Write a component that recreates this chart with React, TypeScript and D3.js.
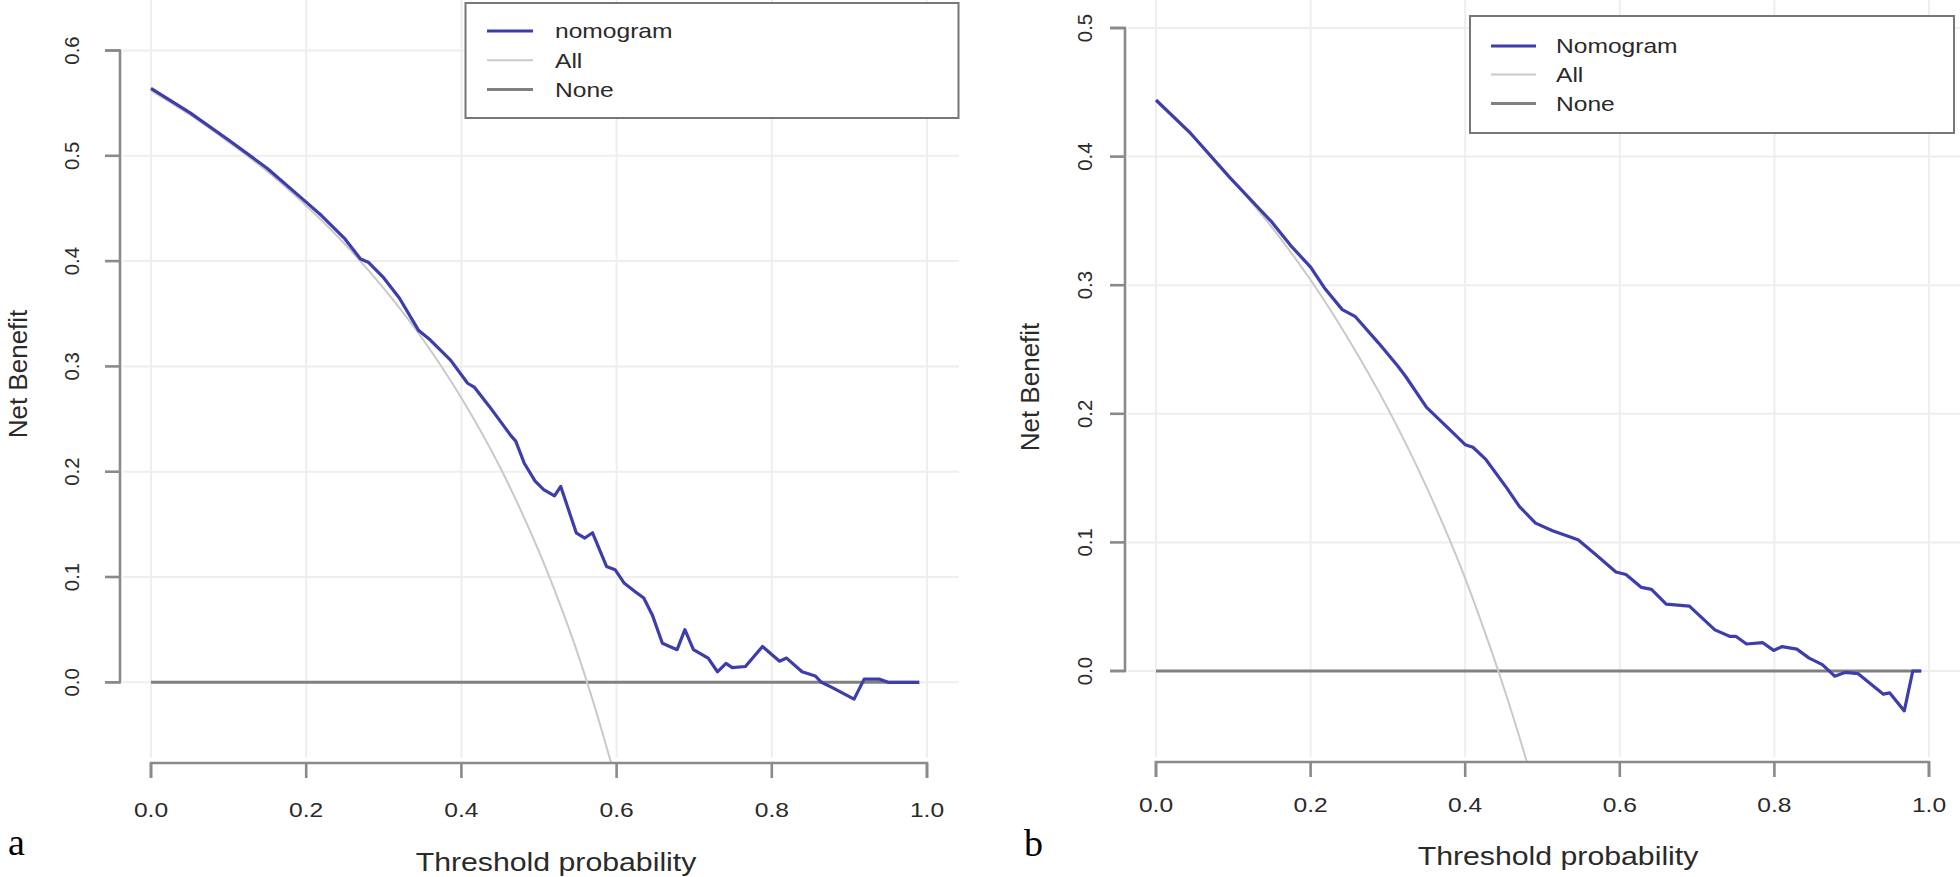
import React from 'react';
import * as d3 from 'd3';

// ---------- data ----------
const xTickValues = [0, 0.2, 0.4, 0.6, 0.8, 1.0];
const yTickValuesA = [0, 0.1, 0.2, 0.3, 0.4, 0.5, 0.6];
const yTickValuesB = [0, 0.1, 0.2, 0.3, 0.4, 0.5];

// panel a: nomogram
const nomoAThreshold = [0, 0.05, 0.1, 0.15, 0.2, 0.22, 0.25, 0.27, 0.28, 0.3, 0.32, 0.345, 0.36, 0.386, 0.408, 0.417, 0.436, 0.464, 0.47, 0.481, 0.495, 0.506, 0.52, 0.528, 0.548, 0.559, 0.569, 0.587, 0.598, 0.61, 0.624, 0.635, 0.646, 0.659, 0.678, 0.688, 0.699, 0.713, 0.718, 0.73, 0.741, 0.749, 0.766, 0.788, 0.81, 0.819, 0.839, 0.856, 0.864, 0.878, 0.906, 0.919, 0.939, 0.95, 0.99];
const nomoABenefit = [0.564, 0.541, 0.515, 0.488, 0.456, 0.443, 0.421, 0.402, 0.399, 0.384, 0.365, 0.334, 0.325, 0.306, 0.284, 0.28, 0.262, 0.234, 0.229, 0.208, 0.191, 0.183, 0.177, 0.186, 0.142, 0.137, 0.142, 0.11, 0.107, 0.094, 0.086, 0.08, 0.064, 0.037, 0.031, 0.05, 0.031, 0.025, 0.023, 0.01, 0.018, 0.014, 0.015, 0.034, 0.02, 0.023, 0.01, 0.006, 0.0, -0.005, -0.016, 0.003, 0.003, 0.0, 0.0];
// panel a: treat all
const allAThreshold = [0, 0.05, 0.1, 0.15, 0.2, 0.25, 0.3, 0.35, 0.4, 0.45, 0.5, 0.525, 0.55, 0.575, 0.6];
const allABenefit = [0.562, 0.539, 0.513, 0.485, 0.4525, 0.416, 0.374, 0.326, 0.27, 0.204, 0.124, 0.078, 0.027, -0.031, -0.095];

// panel b: nomogram
const nomoBThreshold = [0, 0.045, 0.095, 0.15, 0.174, 0.2, 0.219, 0.241, 0.258, 0.288, 0.313, 0.323, 0.35, 0.383, 0.4, 0.41, 0.426, 0.453, 0.47, 0.491, 0.513, 0.546, 0.568, 0.595, 0.608, 0.628, 0.641, 0.66, 0.69, 0.723, 0.742, 0.75, 0.764, 0.785, 0.799, 0.81, 0.829, 0.845, 0.862, 0.878, 0.892, 0.908, 0.941, 0.949, 0.968, 0.979, 0.99];
const nomoBBenefit = [0.444, 0.418, 0.384, 0.349, 0.331, 0.314, 0.297, 0.281, 0.2755, 0.255, 0.237, 0.229, 0.205, 0.186, 0.176, 0.174, 0.165, 0.143, 0.128, 0.115, 0.109, 0.102, 0.091, 0.077, 0.075, 0.065, 0.0635, 0.052, 0.0505, 0.032, 0.027, 0.027, 0.021, 0.022, 0.016, 0.019, 0.017, 0.01, 0.005, -0.004, -0.001, -0.002, -0.018, -0.017, -0.031, 0.0, 0.0];
// panel b: treat all
const allBThreshold = [0, 0.05, 0.1, 0.15, 0.2, 0.25, 0.3, 0.35, 0.4, 0.425, 0.45, 0.475, 0.5];
const allBBenefit = [0.443, 0.414, 0.381, 0.345, 0.304, 0.257, 0.204, 0.143, 0.072, 0.031, -0.013, -0.061, -0.114];

// treat none
const noneThreshold = [0, 0.99];
const noneBenefit = [0, 0];

const legendLabelsA = ['nomogram', 'All', 'None'];
const legendLabelsB = ['Nomogram', 'All', 'None'];

// ---------- styles ----------
const BLUE = '#3d3dab';
const ALL_COLOR = '#c9c9c9';
const NONE_COLOR = '#808080';
const AXIS_COLOR = '#8a8a8a';
const GRID_COLOR = '#eeeeee';
const TEXT_COLOR = '#2a2a2a';
const SANS = '"Liberation Sans", Arial, Helvetica, sans-serif';
const SERIF = '"Liberation Serif", "Times New Roman", serif';
const STRETCH = 1.2;

type Layout = {
  id: string;
  letter: string;
  x0: number; x1: number; // pixel for t=0 and t=1
  yZero: number; yUnit: number; // pixel for v=0 and pixels per 1.0
  axisYx: number; axisXy: number; plotRight: number;
  yTicks: number[];
  xLabelBaseline: number; yLabelBaselineX: number;
  yTitleX: number; yTitleY: number; xTitleX: number; xTitleY: number;
  letterX: number; letterY: number;
  legX: number; legY: number; legW: number; legH: number;
  legRows: number[]; legLine0: number; legLine1: number; legTextX: number;
  legendLabels: string[];
  nomoT: number[]; nomoV: number[]; allT: number[]; allV: number[];
};

const layouts: Layout[] = [
  {
    id: 'a', letter: 'a',
    x0: 151, x1: 927, yZero: 682.3, yUnit: 1053,
    axisYx: 120, axisXy: 763, plotRight: 959,
    yTicks: yTickValuesA,
    xLabelBaseline: 817, yLabelBaselineX: 79,
    yTitleX: 27, yTitleY: 374, xTitleX: 556, xTitleY: 871,
    letterX: 8, letterY: 855,
    legX: 465.5, legY: 3, legW: 493, legH: 115,
    legRows: [31, 60.3, 89.5], legLine0: 487, legLine1: 533, legTextX: 555,
    legendLabels: legendLabelsA,
    nomoT: nomoAThreshold, nomoV: nomoABenefit, allT: allAThreshold, allV: allABenefit,
  },
  {
    id: 'b', letter: 'b',
    x0: 1156, x1: 1929, yZero: 671, yUnit: 1286,
    axisYx: 1125, axisXy: 762, plotRight: 1960,
    yTicks: yTickValuesB,
    xLabelBaseline: 812, yLabelBaselineX: 1092,
    yTitleX: 1039, yTitleY: 387, xTitleX: 1558, xTitleY: 865,
    letterX: 1024, letterY: 856,
    legX: 1470, legY: 16, legW: 484, legH: 117,
    legRows: [46, 74.5, 103.5], legLine0: 1491, legLine1: 1536, legTextX: 1556,
    legendLabels: legendLabelsB,
    nomoT: nomoBThreshold, nomoV: nomoBBenefit, allT: allBThreshold, allV: allBBenefit,
  },
];

function Panel({ L }: { L: Layout }) {
  const x = d3.scaleLinear().domain([0, 1]).range([L.x0, L.x1]);
  const y = d3.scaleLinear().domain([0, 1]).range([L.yZero, L.yZero - L.yUnit]);
  const line = d3.line<[number, number]>().x(d => x(d[0])).y(d => y(d[1]));
  const smooth = d3.line<[number, number]>().x(d => x(d[0])).y(d => y(d[1])).curve(d3.curveMonotoneX);
  const nomo = L.nomoT.map((t, i) => [t, L.nomoV[i]] as [number, number]);
  const all = L.allT.map((t, i) => [t, L.allV[i]] as [number, number]);
  const none = noneThreshold.map((t, i) => [t, noneBenefit[i]] as [number, number]);
  const clipId = `clip-${L.id}`;
  const yTop = y(L.yTicks[L.yTicks.length - 1]);
  const legendColors = [BLUE, ALL_COLOR, NONE_COLOR];
  const legendWidths = [3.2, 2, 3];
  return (
    <g>
      <defs>
        <clipPath id={clipId}>
          <rect x={L.axisYx} y={0} width={L.plotRight - L.axisYx} height={L.axisXy} />
        </clipPath>
      </defs>
      {/* grid */}
      {xTickValues.map(v => (
        <line key={`gx${v}`} x1={x(v)} x2={x(v)} y1={0} y2={L.axisXy - 5} stroke={GRID_COLOR} strokeWidth={2} />
      ))}
      {L.yTicks.map(v => (
        <line key={`gy${v}`} x1={L.axisYx + 3} x2={L.plotRight} y1={y(v)} y2={y(v)} stroke={GRID_COLOR} strokeWidth={2} />
      ))}
      <g clipPath={`url(#${clipId})`}>
        <path d={line(none) || ''} fill="none" stroke={NONE_COLOR} strokeWidth={3} />
        <path d={smooth(all) || ''} fill="none" stroke={ALL_COLOR} strokeWidth={2} />
        <path d={line(nomo) || ''} fill="none" stroke={BLUE} strokeWidth={3.2} strokeLinejoin="round" />
      </g>
      {/* x axis */}
      <path d={`M${x(0)},${L.axisXy + 15}V${L.axisXy}H${x(1)}V${L.axisXy + 15}`} fill="none" stroke={AXIS_COLOR} strokeWidth={2.6} />
      {xTickValues.map(v => (
        <g key={`xt${v}`}>
          <line x1={x(v)} x2={x(v)} y1={L.axisXy} y2={L.axisXy + 15} stroke={AXIS_COLOR} strokeWidth={2.6} />
          <g transform={`translate(${x(v)},${L.xLabelBaseline}) scale(${STRETCH},1)`}>
            <text textAnchor="middle" fontFamily={SANS} fontSize={20.5} fill={TEXT_COLOR}>{v.toFixed(1)}</text>
          </g>
        </g>
      ))}
      {/* y axis */}
      <path d={`M${L.axisYx - 15},${y(0)}H${L.axisYx}V${yTop}H${L.axisYx - 15}`} fill="none" stroke={AXIS_COLOR} strokeWidth={2.6} />
      {L.yTicks.map(v => (
        <g key={`yt${v}`}>
          <line x1={L.axisYx - 15} x2={L.axisYx} y1={y(v)} y2={y(v)} stroke={AXIS_COLOR} strokeWidth={2.6} />
          <text transform={`translate(${L.yLabelBaselineX},${y(v)}) rotate(-90)`} textAnchor="middle" fontFamily={SANS} fontSize={20.4} fill={TEXT_COLOR}>{v.toFixed(1)}</text>
        </g>
      ))}
      {/* titles */}
      <text transform={`translate(${L.yTitleX},${L.yTitleY}) rotate(-90)`} textAnchor="middle" fontFamily={SANS} fontSize={26} fill={TEXT_COLOR}>Net Benefit</text>
      <g transform={`translate(${L.xTitleX},${L.xTitleY}) scale(${STRETCH},1)`}>
        <text textAnchor="middle" fontFamily={SANS} fontSize={25.2} fill={TEXT_COLOR}>Threshold probability</text>
      </g>
      <text x={L.letterX} y={L.letterY} fontFamily={SERIF} fontSize={38} fill="#000">{L.letter}</text>
      {/* legend */}
      <rect x={L.legX} y={L.legY} width={L.legW} height={L.legH} fill="#fff" stroke="#777" strokeWidth={2} />
      {L.legendLabels.map((lab, i) => (
        <g key={lab}>
          <line x1={L.legLine0} x2={L.legLine1} y1={L.legRows[i]} y2={L.legRows[i]} stroke={legendColors[i]} strokeWidth={legendWidths[i]} />
          <g transform={`translate(${L.legTextX},${L.legRows[i] + 7.3}) scale(${STRETCH},1)`}>
            <text fontFamily={SANS} fontSize={20.5} fill={TEXT_COLOR}>{lab}</text>
          </g>
        </g>
      ))}
    </g>
  );
}

export default function App() {
  return (
    <svg width={1960} height={877} style={{ position: 'absolute', left: 0, top: 0, display: 'block', background: '#fff' }}>
      <rect x={0} y={0} width={1960} height={877} fill="#fff" />
      {layouts.map(L => <Panel key={L.id} L={L} />)}
    </svg>
  );
}
